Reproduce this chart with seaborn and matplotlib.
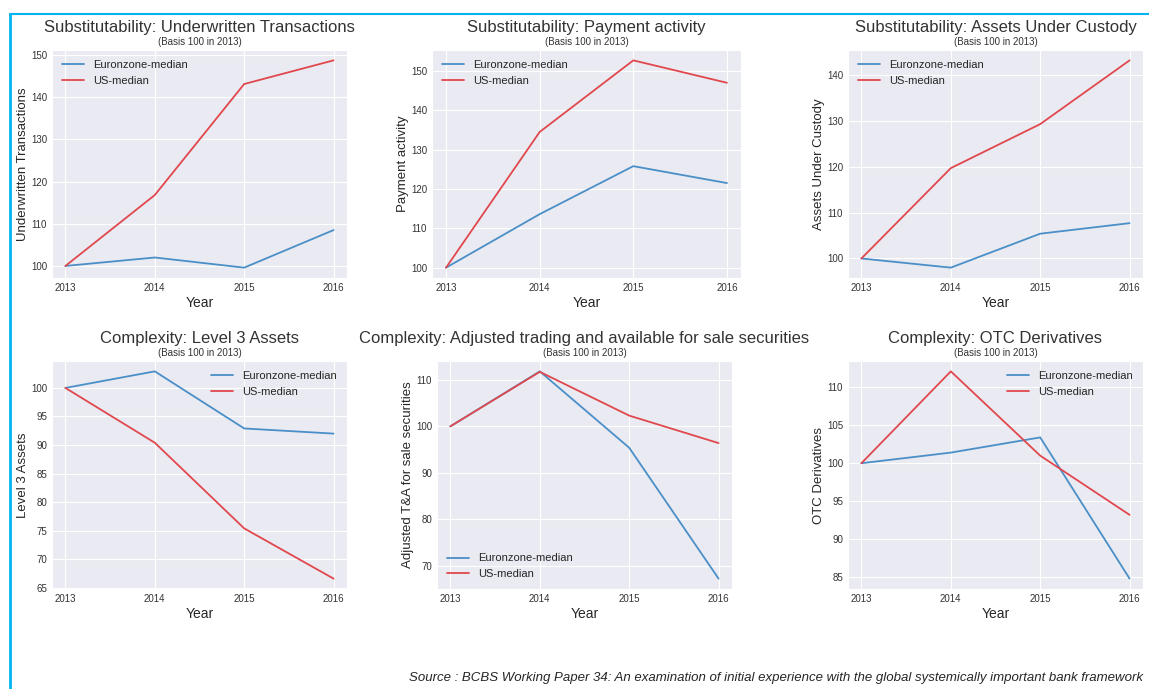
import numpy as np
import pandas as pd
import matplotlib
matplotlib.use("Agg")
import matplotlib.pyplot as plt
from matplotlib.ticker import MultipleLocator
from matplotlib.lines import Line2D
import seaborn as sns

# Data (basis 100 in 2013)
years = [2013, 2014, 2015, 2016]

titles = [
    "Substitutability: Underwritten Transactions",
    "Substitutability: Payment activity",
    "Substitutability: Assets Under Custody",
    "Complexity: Level 3 Assets",
    "Complexity: Adjusted trading and available for sale securities",
    "Complexity: OTC Derivatives",
]
ylabels = [
    "Underwritten Transactions",
    "Payment activity",
    "Assets Under Custody",
    "Level 3 Assets",
    "Adjusted T&A for sale securities",
    "OTC Derivatives",
]

euro_underwritten = [100, 102.0, 99.6, 108.5]
us_underwritten = [100, 116.8, 143.1, 148.7]
euro_payment = [100, 113.6, 125.8, 121.5]
us_payment = [100, 134.5, 152.7, 147.0]
euro_custody = [100, 98.0, 105.4, 107.7]
us_custody = [100, 119.7, 129.3, 143.2]
euro_level3 = [100, 102.9, 92.9, 92.0]
us_level3 = [100, 90.4, 75.4, 66.6]
euro_trading = [100, 111.8, 95.4, 67.3]
us_trading = [100, 111.7, 102.3, 96.4]
euro_otc = [100, 101.4, 103.4, 84.8]
us_otc = [100, 112.1, 101.0, 93.2]

euro_series = [euro_underwritten, euro_payment, euro_custody,
               euro_level3, euro_trading, euro_otc]
us_series = [us_underwritten, us_payment, us_custody,
             us_level3, us_trading, us_otc]

# styling per panel
tick_steps = [10, 10, 10, 5, 10, 5]
legend_locs = ["upper left", "upper left", "upper left",
               "upper right", "lower left", "upper right"]
# axes boxes in pixels: left, right, top, bottom
boxes = [
    (52, 347, 50, 278),
    (432, 741, 50, 278),
    (848, 1143, 50, 278),
    (52, 347, 361, 589),
    (437, 732, 361, 589),
    (848, 1143, 361, 589),
]

sns.set_style("darkgrid")
plt.rcParams['font.family'] = ['Liberation Sans', 'DejaVu Sans']
plt.rcParams['text.color'] = '#262626'
plt.rcParams['axes.labelcolor'] = '#262626'
plt.rcParams['xtick.color'] = '#333333'
plt.rcParams['ytick.color'] = '#333333'

W, H = 1149, 689
fig = plt.figure(figsize=(W / 100, H / 100), dpi=100)
fig.patch.set_facecolor('white')

blue = '#4a8fc7'
red = '#e0484d'

for i in range(6):
    l, r, t, b = boxes[i]
    ax = fig.add_axes([l / W, 1 - b / H, (r - l) / W, (b - t) / H])
    df = pd.DataFrame({
        'Year': years * 2,
        'value': euro_series[i] + us_series[i],
        'series': ['Euronzone-median'] * 4 + ['US-median'] * 4,
    })
    sns.lineplot(data=df, x='Year', y='value', hue='series',
                 palette=[blue, red], linewidth=1.3, ax=ax, legend=False)
    ax.set_xticks(years)
    ax.yaxis.set_major_locator(MultipleLocator(tick_steps[i]))
    ax.tick_params(labelsize=7, length=0, pad=3.5)
    ax.set_xlabel("Year", fontsize=10, labelpad=2.5)
    ax.set_ylabel(ylabels[i], fontsize=9.5, labelpad=1.5)
    ax.annotate(titles[i], xy=(0.5, 1), xycoords='axes fraction',
                xytext=(0, 16.5), textcoords='offset points',
                ha='center', va='center', fontsize=12, color='#333333')
    ax.annotate("(Basis 100 in 2013)", xy=(0.5, 1), xycoords='axes fraction',
                xytext=(0, 5.5), textcoords='offset points',
                ha='center', va='center', fontsize=7, color='#333333')
    handles = [Line2D([], [], color=blue, lw=1.3),
               Line2D([], [], color=red, lw=1.3)]
    ax.legend(handles, ['Euronzone-median', 'US-median'],
              loc=legend_locs[i], frameon=False, fontsize=8)

fig.text(1143 / W, 1 - 678 / H,
         "Source : BCBS Working Paper 34: An examination of initial experience "
         "with the global systemically important bank framework",
         ha='right', va='center', fontsize=9.5, style='italic', color='#262626')

# light blue frame (top and left edges)
fig.add_artist(Line2D([10 / W, 1], [1 - 14 / H, 1 - 14 / H],
                      color='#00b4f0', lw=1.5, transform=fig.transFigure))
fig.add_artist(Line2D([10 / W, 10 / W], [0, 1 - 14 / H],
                      color='#00b4f0', lw=2, transform=fig.transFigure))

fig.savefig("out.png", dpi=100)
